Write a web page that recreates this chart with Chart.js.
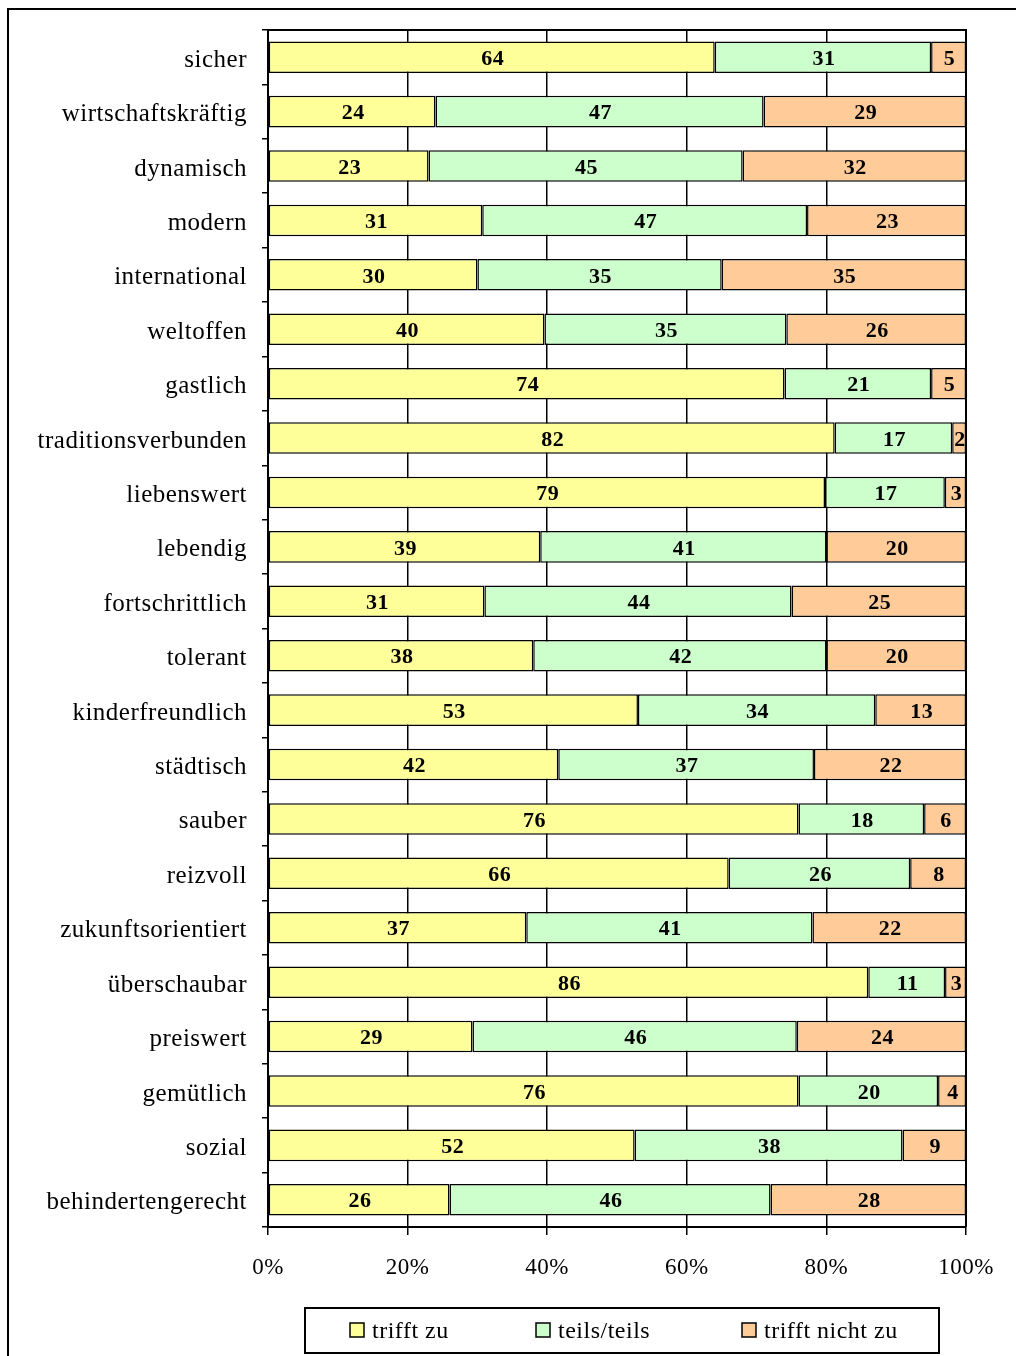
<!DOCTYPE html>
<html>
<head>
<meta charset="utf-8">
<script src="https://cdn.jsdelivr.net/npm/chart.js@4"></script>
<style>
  html, body { margin: 0; padding: 0; background: #fff; }
  #wrap { position: relative; width: 1016px; height: 1356px; }
</style>
</head>
<body>
<div id="wrap"><canvas id="chart" width="1016" height="1356"></canvas></div>
<script>
const categories = ['sicher', 'wirtschaftskräftig', 'dynamisch', 'modern', 'international', 'weltoffen',
  'gastlich', 'traditionsverbunden', 'liebenswert', 'lebendig', 'fortschrittlich', 'tolerant',
  'kinderfreundlich', 'städtisch', 'sauber', 'reizvoll', 'zukunftsorientiert', 'überschaubar',
  'preiswert', 'gemütlich', 'sozial', 'behindertengerecht'];
const trifftZu = [64, 24, 23, 31, 30, 40, 74, 82, 79, 39, 31, 38, 53, 42, 76, 66, 37, 86, 29, 76, 52, 26];
const teilsTeils = [31, 47, 45, 47, 35, 35, 21, 17, 17, 41, 44, 42, 34, 37, 18, 26, 41, 11, 46, 20, 38, 46];
const trifftNicht = [5, 29, 32, 23, 35, 26, 5, 2, 3, 20, 25, 20, 13, 22, 6, 8, 22, 3, 24, 4, 9, 28];
const seriesNames = ['trifft zu', 'teils/teils', 'trifft nicht zu'];
const colors = ['#FFFF99', '#CCFFCC', '#FFCC99'];
const xTicks = [0, 20, 40, 60, 80, 100];

const FONT = '"Liberation Serif", "Times New Roman", serif';
const raw = [trifftZu, teilsTeils, trifftNicht];
const totals = categories.map((_, i) => raw.reduce((s, arr) => s + arr[i], 0));
// bars are 100% stacked: each segment is its share of the row total
const share = arr => arr.map((v, i) => v / totals[i] * 100);

const decor = {
  id: 'decor',
  beforeDraw(chart) {
    chart.ctx.letterSpacing = '0.5px';
  },
  afterDatasetsDraw(chart) {
    const { ctx, chartArea: a } = chart;
    ctx.save();
    // value labels
    ctx.font = 'bold 22px ' + FONT;
    ctx.fillStyle = '#000';
    ctx.textAlign = 'center';
    ctx.textBaseline = 'middle';
    chart.data.datasets.forEach((ds, di) => {
      chart.getDatasetMeta(di).data.forEach((bar, i) => {
        const cx = (bar.x + bar.base) / 2;
        ctx.fillText(String(raw[di][i]), cx + 1, bar.y + 2);
      });
    });
    // top and right border of plot
    ctx.strokeStyle = '#000';
    ctx.lineWidth = 2;
    ctx.beginPath();
    ctx.moveTo(a.left, a.top);
    ctx.lineTo(a.right, a.top);
    ctx.lineTo(a.right, a.bottom);
    ctx.stroke();
    ctx.restore();
  },
  afterDraw(chart) {
    const { ctx } = chart;
    ctx.save();
    // outer frame (left + top)
    ctx.strokeStyle = '#000';
    ctx.lineWidth = 2;
    ctx.beginPath();
    ctx.moveTo(8, 1356);
    ctx.lineTo(8, 9);
    ctx.lineTo(1016, 9);
    ctx.stroke();
    // legend box
    ctx.strokeRect(305, 1308, 634, 45);
    const itemX = [350, 536, 742];
    ctx.font = '24px ' + FONT;
    ctx.textBaseline = 'middle';
    ctx.textAlign = 'left';
    seriesNames.forEach((name, i) => {
      ctx.fillStyle = colors[i];
      ctx.fillRect(itemX[i], 1323, 14, 14);
      ctx.lineWidth = 1.5;
      ctx.strokeStyle = '#000';
      ctx.strokeRect(itemX[i], 1323, 14, 14);
      ctx.fillStyle = '#000';
      ctx.fillText(name, itemX[i] + 22, 1332);
    });
    ctx.restore();
  }
};

new Chart(document.getElementById('chart'), {
  type: 'bar',
  data: {
    labels: categories,
    datasets: raw.map((arr, i) => ({
      label: seriesNames[i],
      data: share(arr),
      backgroundColor: colors[i],
      borderColor: '#000',
      borderWidth: 1.5,
      borderSkipped: false,
      barPercentage: 0.58,
      categoryPercentage: 1
    }))
  },
  options: {
    indexAxis: 'y',
    responsive: false,
    animation: false,
    devicePixelRatio: 1,
    layout: { padding: { left: 0, right: 50, top: 30, bottom: 69 } },
    plugins: { legend: { display: false }, tooltip: { enabled: false } },
    scales: {
      x: {
        stacked: true,
        min: 0,
        max: 100,
        afterFit: s => { s.height = 60; },
        afterBuildTicks: s => { s.ticks = xTicks.map(v => ({ value: v })); },
        ticks: {
          color: '#000',
          font: { family: FONT, size: 23 },
          padding: 19,
          callback: v => v + '%'
        },
        grid: { color: '#000', lineWidth: 1.5, tickLength: 8, tickColor: '#000' },
        border: { display: true, color: '#000', width: 2 }
      },
      y: {
        stacked: true,
        afterFit: s => { s.width = 268; },
        ticks: {
          color: '#000',
          font: { family: FONT, size: 25 },
          padding: 15,
          labelOffset: 3
        },
        grid: { drawOnChartArea: false, offset: true, tickLength: 6, color: '#000', lineWidth: 1.5 },
        border: { display: true, color: '#000', width: 2 }
      }
    }
  },
  plugins: [decor]
});
</script>
</body>
</html>
